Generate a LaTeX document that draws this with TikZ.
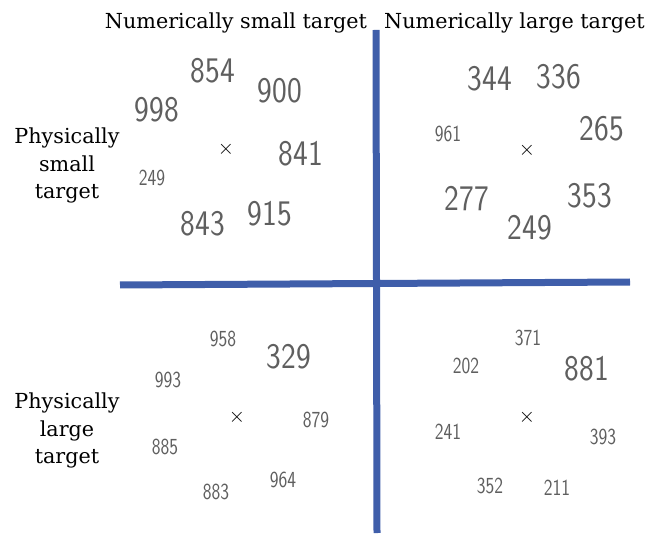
\documentclass[tikz,border=0pt]{standalone}
\usepackage{fontspec}
\setmainfont{DejaVu Serif}
\definecolor{axisblue}{RGB}{63,94,170}
\definecolor{digitgray}{RGB}{95,95,95}
\tikzset{
  lbl/.style={font=\fontsize{20.7}{25}\selectfont, anchor=base, inner sep=0pt, text=black},
  bignum/.style={font=\fontsize{36}{36}\sffamily, text=digitgray, inner sep=0pt},
  smallnum/.style={font=\fontsize{23}{23}\sffamily, text=digitgray, inner sep=0pt},
  cross/.style={font=\fontsize{21}{21}\selectfont, text=black, inner sep=0pt},
  axis/.style={draw=axisblue, line width=7pt}
}
\newcommand{\bn}[1]{\scalebox{0.87}[1]{#1}}
\newcommand{\sn}[1]{\scalebox{0.81}[1]{#1}}
\begin{document}
\begin{tikzpicture}[x=1pt,y=-1pt]
\useasboundingbox (0,0) rectangle (661,534);
% axes
\coordinate (vt) at (376,30);
\coordinate (vb) at (377,533);
\coordinate (hl) at (120,285);
\coordinate (hr) at (630,282);
\draw[axis] (vt) -- (vb);
\draw[axis] (hl) -- (hr);
% labels
\node[lbl] (nst) at (236,28.3) {Numerically small target};
\node[lbl] (nlt) at (514.5,28.3) {Numerically large target};
\node[lbl] (pst1) at (67,143.3) {Physically};
\node[lbl] (pst2) at (67,171.2) {small};
\node[lbl] (pst3) at (67,198.5) {target};
\node[lbl] (plt1) at (67,408.3) {Physically};
\node[lbl] (plt2) at (67,436.5) {large};
\node[lbl] (plt3) at (67,463.3) {target};
% top-left quadrant
\node[cross] (c1) at (226,149) {$\times$};
\node[bignum] (a1) at (213,71) {\bn{854}};
\node[bignum] (a2) at (280,91) {\bn{900}};
\node[bignum] (a3) at (157,110) {\bn{998}};
\node[bignum] (a4) at (301,154) {\bn{841}};
\node[smallnum] (a5) at (152,178) {\sn{249}};
\node[bignum] (a6) at (203,224) {\bn{843}};
\node[bignum] (a7) at (270,214) {\bn{915}};
% top-right quadrant
\node[cross] (c2) at (527,150) {$\times$};
\node[bignum] (b1) at (490,79) {\bn{344}};
\node[bignum] (b2) at (559,77) {\bn{336}};
\node[smallnum] (b3) at (448,134) {\sn{961}};
\node[bignum] (b4) at (602,129) {\bn{265}};
\node[bignum] (b5) at (467,199) {\bn{277}};
\node[bignum] (b6) at (590,196) {\bn{353}};
\node[bignum] (b7) at (530,228) {\bn{249}};
% bottom-left quadrant
\node[cross] (c3) at (237,417) {$\times$};
\node[smallnum] (d1) at (223,339) {\sn{958}};
\node[bignum] (d2) at (289,357) {\bn{329}};
\node[smallnum] (d3) at (168,380) {\sn{993}};
\node[smallnum] (d4) at (316,420) {\sn{879}};
\node[smallnum] (d5) at (165,447) {\sn{885}};
\node[smallnum] (d6) at (283,480) {\sn{964}};
\node[smallnum] (d7) at (216,492) {\sn{883}};
% bottom-right quadrant
\node[cross] (c4) at (527,417) {$\times$};
\node[smallnum] (e1) at (528,338) {\sn{371}};
\node[smallnum] (e2) at (466,366) {\sn{202}};
\node[bignum] (e3) at (587,369) {\bn{881}};
\node[smallnum] (e4) at (448,432) {\sn{241}};
\node[smallnum] (e5) at (603,437) {\sn{393}};
\node[smallnum] (e6) at (490,486) {\sn{352}};
\node[smallnum] (e7) at (557,488) {\sn{211}};
\end{tikzpicture}
\end{document}
